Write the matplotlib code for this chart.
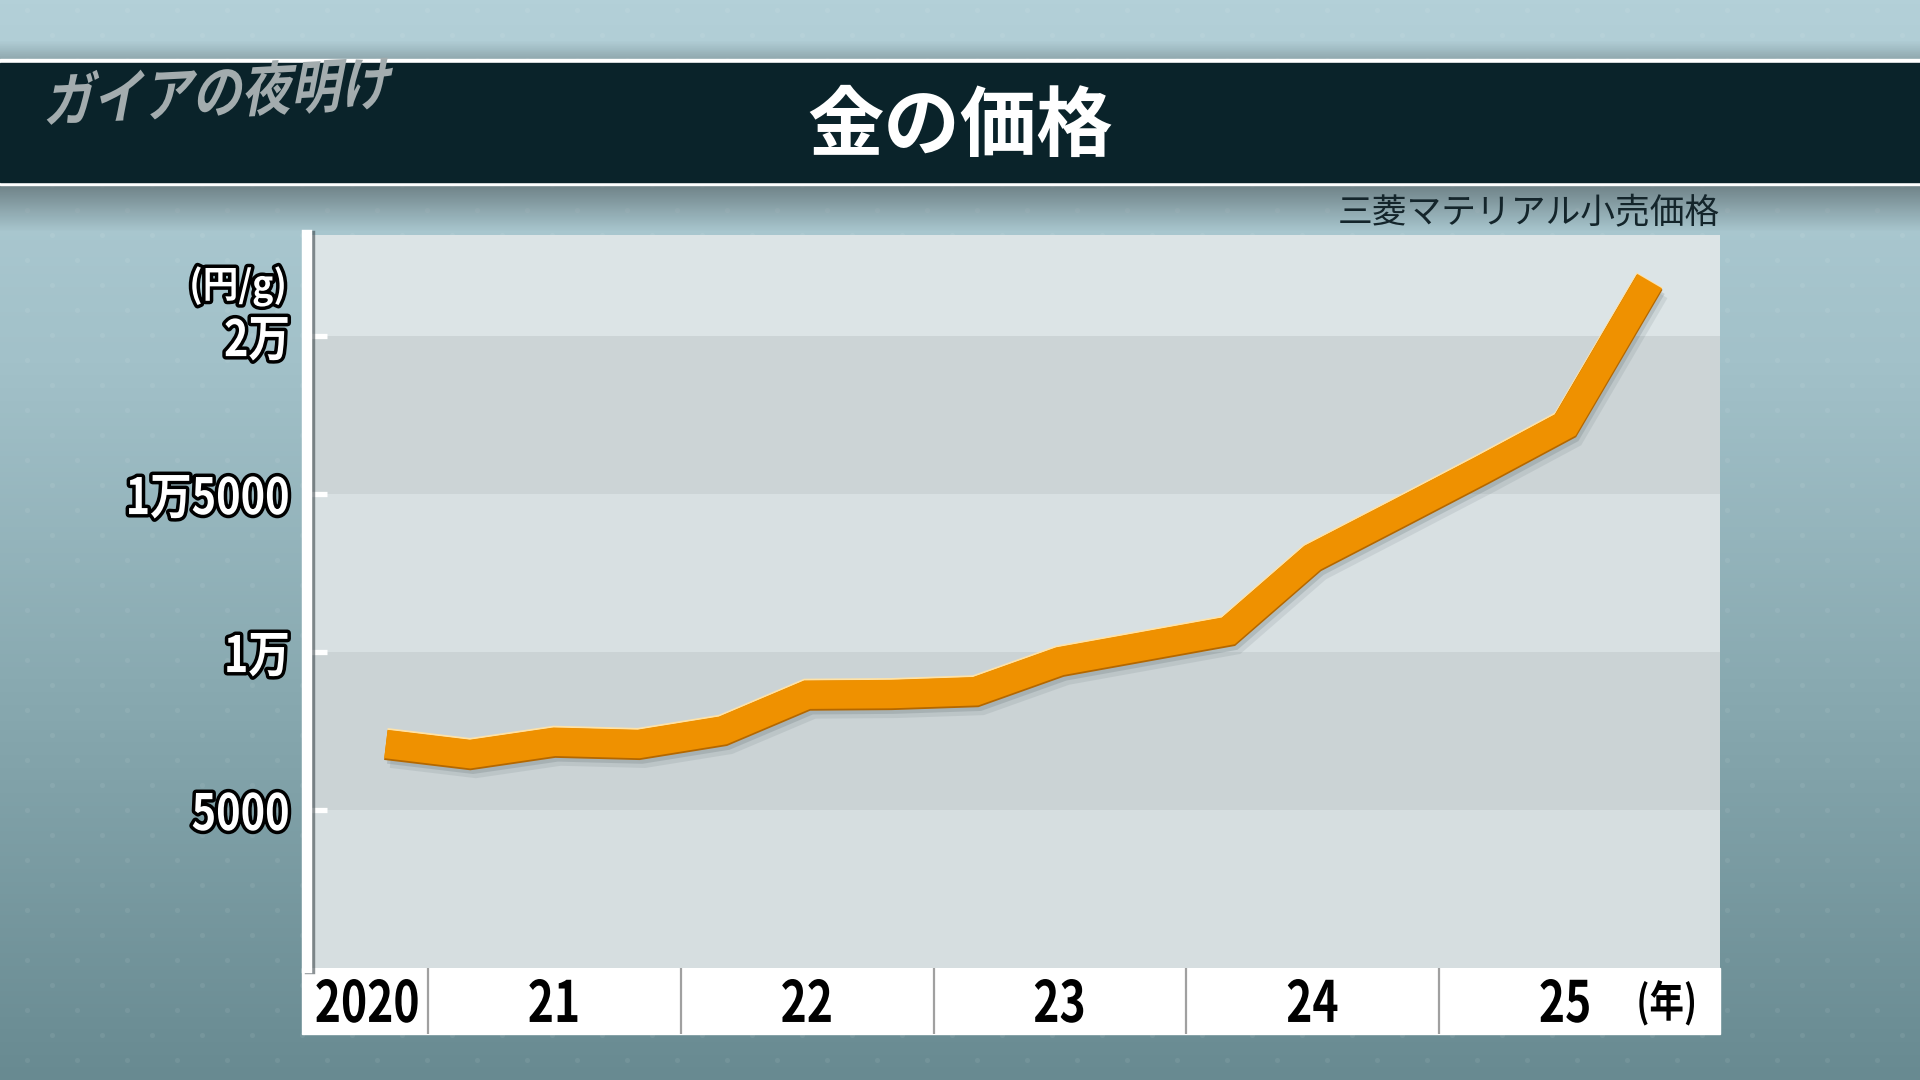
import numpy as np
import matplotlib
matplotlib.use("Agg")
import matplotlib.pyplot as plt
from matplotlib import patheffects as pe
from matplotlib.patches import Rectangle
from matplotlib.colors import LinearSegmentedColormap
from matplotlib.transforms import Affine2D

# ---------------- data ----------------
dates = ["2020-11", "2021-03", "2021-07", "2021-11", "2022-03", "2022-07",
         "2022-11", "2023-03", "2023-07", "2023-11", "2024-03", "2024-07",
         "2024-11", "2025-03", "2025-07", "2025-11"]
prices = [7090, 6770, 7160, 7090, 7520, 8650, 8670, 8760, 9710, 10190,
          10670, 12990, 14370, 15760, 17190, 21740]
yticks = [5000, 10000, 15000, 20000]
ytick_labels = ["5000", "1万", "1万5000", "2万"]
year_starts = [2021, 2022, 2023, 2024, 2025]
year_labels = ["2020", "21", "22", "23", "24", "25"]
title = "金の価格"
subtitle = "三菱マテリアル小売価格"
unit_y = "(円/g)"
unit_x = "(年)"
logo = "ガイアの夜明け"

x = [int(d[:4]) + (int(d[5:]) - 1) / 12 for d in dates]

CJK = ["Noto Sans CJK JP", "DejaVu Sans"]

W, H = 1920, 1080
fig = plt.figure(figsize=(19.2, 10.8), dpi=100)


def fr(l, t, r, b):
    return [l / W, 1 - b / H, (r - l) / W, (b - t) / H]


# ---- condensed-text path effects (squeeze glyph outlines horizontally) ----
def _warp(tpath, affine, sx, anchor, skew):
    v = tpath.vertices
    if len(v) == 0:
        return affine
    xmin, xmax = v[:, 0].min(), v[:, 0].max()
    a = (xmin + xmax) / 2 if anchor == "center" else xmax
    t = Affine2D().translate(-a, 0).scale(sx, 1)
    if skew:
        t = t.skew_deg(skew, 0)
    return t.translate(a, 0) + affine


class SqStroke(pe.Stroke):
    def __init__(self, sx=1.0, anchor="center", skew=0, **kw):
        super().__init__(**kw)
        self.sx, self.anchor, self.skew = sx, anchor, skew

    def draw_path(self, renderer, gc, tpath, affine, rgbFace):
        super().draw_path(renderer, gc, tpath,
                          _warp(tpath, affine, self.sx, self.anchor, self.skew),
                          rgbFace)


class SqNormal(pe.AbstractPathEffect):
    def __init__(self, sx=1.0, anchor="center", skew=0):
        super().__init__()
        self.sx, self.anchor, self.skew = sx, anchor, skew

    def draw_path(self, renderer, gc, tpath, affine, rgbFace=None):
        renderer.draw_path(gc, tpath,
                           _warp(tpath, affine, self.sx, self.anchor, self.skew),
                           rgbFace)


# ---------------- background ----------------
bg = fig.add_axes([0, 0, 1, 1], zorder=0)
grad = np.linspace(0, 1, 256)[:, None]
cmap = LinearSegmentedColormap.from_list(
    "bg", ["#b3d0d8", "#a2c1c9", "#86a7ae", "#688a91"])
bg.imshow(grad, extent=[0, W, H, 0], cmap=cmap, aspect="auto", zorder=0)

# faint dot texture
gy = np.arange(10, H, 25)
pts = [(gx, yy) for k, yy in enumerate(gy)
       for gx in np.arange(27 + 25 * (k % 2), W, 50)]
pts = np.array(pts)
bg.scatter(pts[:, 0], pts[:, 1], s=14, color="white", alpha=0.07,
           lw=0, zorder=1)

# shadow under title bar
sh = np.zeros((64, 1, 4))
sh[:, 0, 3] = np.linspace(0.35, 0.0, 64)
bg.imshow(sh, extent=[0, W, 232, 185], aspect="auto", zorder=1)
sh2 = np.zeros((32, 1, 4))
sh2[:, 0, 3] = np.linspace(0.0, 0.18, 32)
bg.imshow(sh2, extent=[0, W, 59, 40], aspect="auto", zorder=1)

# title bar
bg.add_patch(Rectangle((0, 59), W, 126, color="white", zorder=2))
bg.add_patch(Rectangle((0, 63), W, 119, color="#0a232a", zorder=2))
# x label band
bg.add_patch(Rectangle((302, 968), 1418, 66, color="white", zorder=2))

bg.set_xlim(0, W)
bg.set_ylim(H, 0)
bg.axis("off")

bg.text(960, 127, title, ha="center", va="center", fontsize=55,
        fontweight="bold", color="white", family=CJK, zorder=5)
lg = bg.text(216, 96, logo, ha="center", va="center", fontsize=42,
             fontweight="bold", color="#a3acae", family=CJK, rotation=3,
             zorder=5)
lg.set_path_effects([SqNormal(0.85, "center", 14)])
bg.text(1720, 214, subtitle, ha="right", va="center", fontsize=25,
        color="#14252b", family=CJK, zorder=5)
t = bg.text(287, 286, unit_y, ha="right", va="center", fontsize=27,
            fontweight="bold", color="white", family=CJK, zorder=5)
t.set_path_effects([SqStroke(0.95, "right", linewidth=5, foreground="black"),
                    SqNormal(0.95, "right")])
ty = bg.text(1667, 1003, unit_x, ha="center", va="center", fontsize=31,
             fontweight="bold", color="black", family=CJK, zorder=5)
ty.set_path_effects([SqNormal(0.8, "center")])

# ---------------- main chart ----------------
ax = fig.add_axes(fr(307, 235, 1720, 968), zorder=2)
x0 = 2021 - (428 - 307) / 252.75
x1 = 2025 + (1720 - 1439) / 252.75
ax.set_xlim(x0, x1)
ax.set_ylim(0, 23200)

edges = [0] + yticks + [23200]
band_cols = ["#d6dee0", "#cbd3d5", "#d8e0e2", "#ccd4d6", "#dce4e6"]
for i in range(len(edges) - 1):
    ax.axhspan(edges[i], edges[i + 1], color=band_cols[i], lw=0, zorder=0)

for s in ["top", "right", "bottom"]:
    ax.spines[s].set_visible(False)
ax.spines["left"].set_color("white")
ax.spines["left"].set_linewidth(7.5)
ax.spines["left"].set_path_effects([
    pe.SimpleLineShadow(offset=(2.5, -1), shadow_color="#404a4e", alpha=0.6),
    pe.Normal()])

ax.set_xticks([])
ax.set_yticks(yticks)
ax.set_yticklabels(ytick_labels)
ax.tick_params(axis="y", direction="in", length=14.5, width=3.8,
               color="white", pad=12, labelsize=36, labelcolor="white")
for lab in ax.get_yticklabels():
    lab.set_fontfamily(CJK)
    lab.set_fontweight("bold")
    lab.set_path_effects([
        SqStroke(0.83, "right", linewidth=5, foreground="black"),
        SqNormal(0.83, "right")])

line_fx = [
    pe.SimpleLineShadow(offset=(2, -4), shadow_color="#3c4c52", alpha=0.16),
    pe.SimpleLineShadow(offset=(4, -7), shadow_color="#3c4c52", alpha=0.10),
    pe.Stroke(linewidth=21.5, foreground="#ffe2a6", offset=(0, 0.8)),
    pe.Stroke(linewidth=21.5, foreground="#b36700", offset=(0, -0.8)),
    pe.Normal(),
]
ax.plot(x, prices, color="#ef9100", lw=20.5, solid_joinstyle="miter",
        solid_capstyle="butt", path_effects=line_fx, zorder=5, clip_on=False)

# ---------------- x label band ----------------
axb = fig.add_axes(fr(307, 968, 1720, 1034), zorder=3, sharex=ax)
axb.set_ylim(0, 1)
axb.axis("off")
for ys in year_starts:
    axb.axvline(ys, color="#a0a0a0", lw=1.6, zorder=2)
bounds = [x0] + year_starts
centers = [(bounds[i] + bounds[i + 1]) / 2 for i in range(len(bounds) - 1)]
centers.append(year_starts[-1] + 0.5)
for xc, lab in zip(centers, year_labels):
    tx = axb.text(xc, 0.44, lab, ha="center", va="center", fontsize=41,
                  fontweight="bold", color="black", family=CJK)
    tx.set_path_effects([SqNormal(0.78, "center")])

fig.savefig("out.png", dpi=100)
